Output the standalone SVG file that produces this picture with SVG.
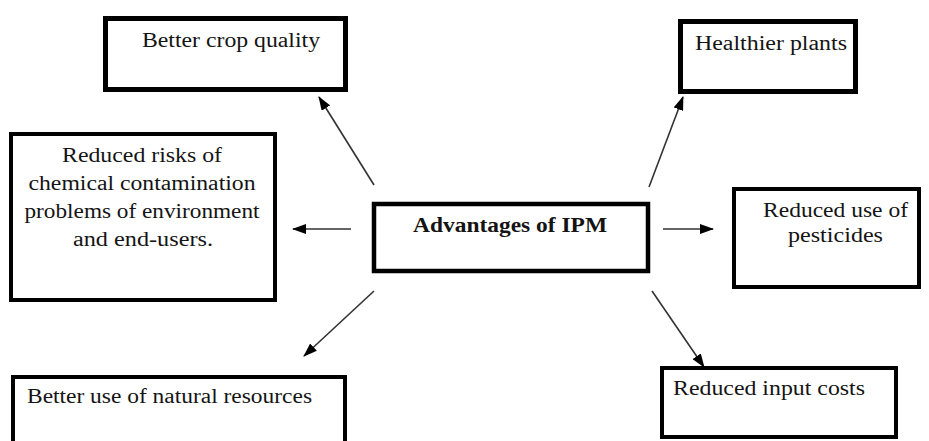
<svg xmlns="http://www.w3.org/2000/svg" width="929" height="441" viewBox="0 0 929 441">
<style>
.box{fill:#fff;stroke:#000;stroke-width:4.5}
.t{font-family:"Liberation Serif","Times New Roman",serif;font-size:20px;fill:#141414}
.c{text-anchor:middle}
.b{font-weight:bold}
.ln{stroke:#333;stroke-width:1.6;fill:none;marker-end:url(#ah)}
</style>
<defs>
<marker id="ah" markerUnits="userSpaceOnUse" markerWidth="14" markerHeight="10" refX="13" refY="5" orient="auto">
<path d="M0,0 L14,5 L0,10 Z" fill="#000"/>
</marker>
</defs>
<rect width="929" height="441" fill="#fff"/>
<g id="connectors">
<line class="ln" x1="374" y1="185" x2="319" y2="97"/>
<line class="ln" x1="351" y1="229" x2="293" y2="229"/>
<line class="ln" x1="374" y1="291" x2="304" y2="356"/>
<line class="ln" x1="649" y1="187" x2="683" y2="97"/>
<line class="ln" x1="663" y1="229" x2="713" y2="229"/>
<line class="ln" x1="652" y1="291" x2="704" y2="367"/>
</g>
<g id="center">
<rect class="box" x="374" y="204" width="274" height="67"/>
<text class="t c b" x="510" y="232" textLength="194" lengthAdjust="spacingAndGlyphs">Advantages of IPM</text>
</g>
<g id="crop-quality">
<rect class="box" x="105.5" y="18.5" width="240" height="71" style="stroke-width:5"/>
<text class="t" x="142" y="47" textLength="178" lengthAdjust="spacingAndGlyphs">Better crop quality</text>
</g>
<g id="healthier-plants">
<rect class="box" x="680.5" y="21.5" width="175" height="70" style="stroke-width:5"/>
<text class="t" x="695" y="50" textLength="152" lengthAdjust="spacingAndGlyphs">Healthier plants</text>
</g>
<g id="reduced-risks">
<rect class="box" x="11" y="134" width="264" height="166" style="stroke-width:4"/>
<text class="t c" x="142" y="162" textLength="160" lengthAdjust="spacingAndGlyphs">Reduced risks of</text>
<text class="t c" x="142" y="190" textLength="227" lengthAdjust="spacingAndGlyphs">chemical contamination</text>
<text class="t c" x="142" y="218" textLength="235" lengthAdjust="spacingAndGlyphs">problems of environment</text>
<text class="t c" x="143" y="246" textLength="140" lengthAdjust="spacingAndGlyphs">and end-users.</text>
</g>
<g id="reduced-pesticides">
<rect class="box" x="734" y="189" width="185" height="98" style="stroke-width:4"/>
<text class="t c" x="835.5" y="217" textLength="145" lengthAdjust="spacingAndGlyphs">Reduced use of</text>
<text class="t c" x="835.5" y="242" textLength="95" lengthAdjust="spacingAndGlyphs">pesticides</text>
</g>
<g id="natural-resources">
<rect class="box" x="13" y="377" width="332" height="80" style="stroke-width:4"/>
<text class="t" x="27" y="403" textLength="285" lengthAdjust="spacingAndGlyphs">Better use of natural resources</text>
</g>
<g id="input-costs">
<rect class="box" x="662" y="368" width="234" height="69" style="stroke-width:4"/>
<text class="t" x="673" y="395" textLength="192" lengthAdjust="spacingAndGlyphs">Reduced input costs</text>
</g>
</svg>
